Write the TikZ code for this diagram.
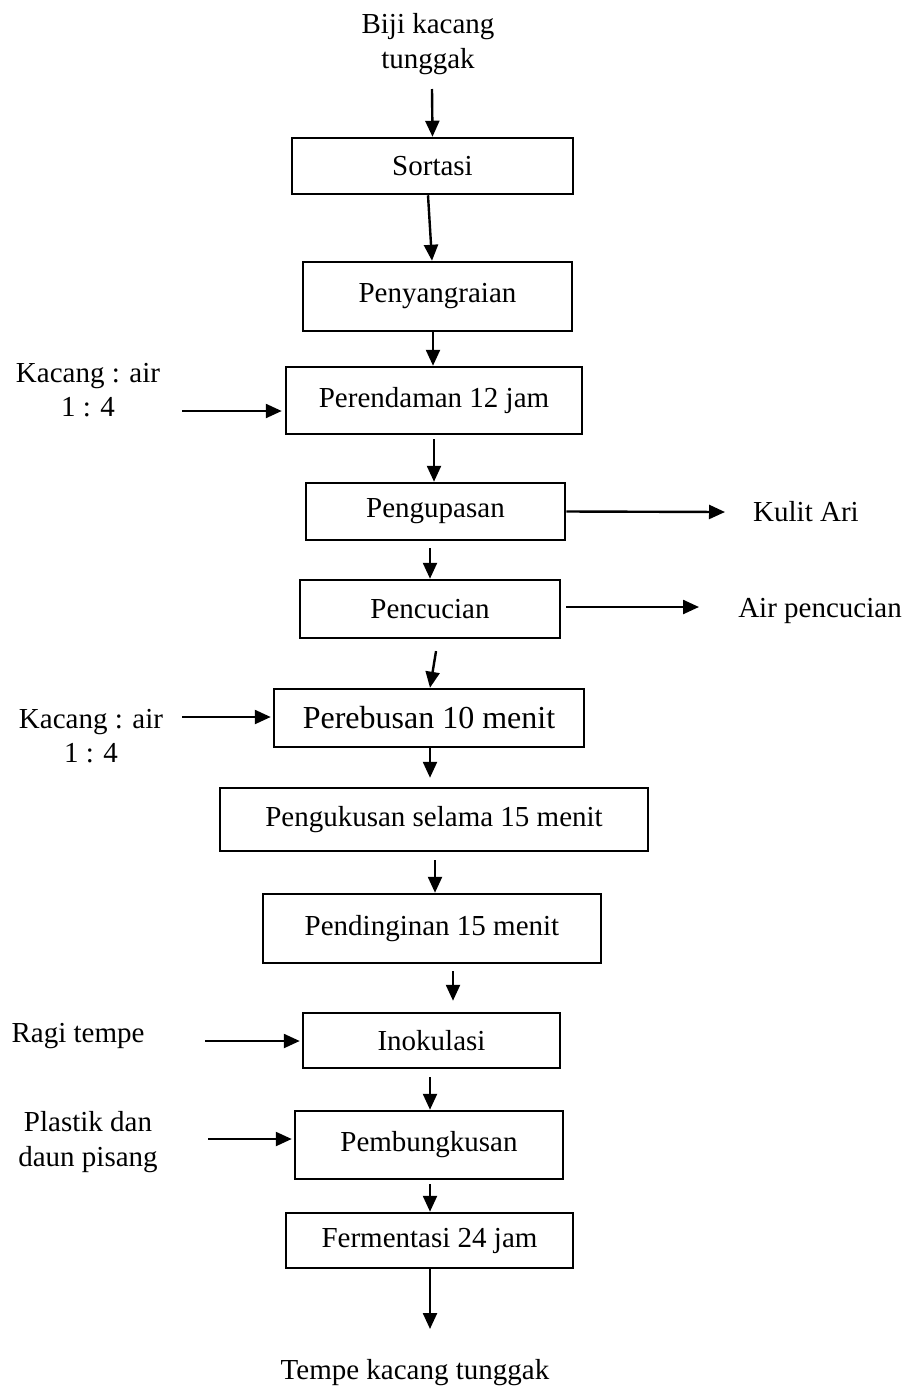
\documentclass[tikz,border=0pt]{standalone}
\usepackage{fontspec}
\setmainfont{Liberation Serif}
\usetikzlibrary{arrows.meta}
\begin{document}
\begin{tikzpicture}[x=1pt,y=-1pt,
  box/.style={draw,line width=2.5pt,inner sep=0pt,font=\fontsize{29}{34}\selectfont},
  lbl/.style={inner sep=0pt,align=center,font=\fontsize{29}{34.5}\selectfont},
  arr/.style={line width=2.4pt,-{Triangle[length=16pt,width=14pt]}}]
\useasboundingbox (0,0) rectangle (904,1387);
% boxes
\node[box,minimum width=281pt,minimum height=56pt] (sortasi) at (432.5,166) {Sortasi};
\node[box,minimum width=269pt,minimum height=69pt] (penyangraian) at (437.5,296.5) {Penyangraian};
\node[box,minimum width=296pt,minimum height=67pt] (perendaman) at (434,400.5) {Perendaman 12 jam};
\node[box,minimum width=259pt,minimum height=57pt] (pengupasan) at (435.5,511.5) {Pengupasan};
\node[box,minimum width=260pt,minimum height=58pt] (pencucian) at (430,609) {Pencucian};
\node[box,minimum width=310pt,minimum height=58pt,font=\fontsize{32}{38}\selectfont] (perebusan) at (429,718) {Perebusan 10 menit};
\node[box,minimum width=428pt,minimum height=63pt] (pengukusan) at (434,819.5) {Pengukusan selama 15 menit};
\node[box,minimum width=338pt,minimum height=69pt] (pendinginan) at (432,928.5) {Pendinginan 15 menit};
\node[box,minimum width=257pt,minimum height=55pt] (inokulasi) at (431.5,1040.5) {Inokulasi};
\node[box,minimum width=268pt,minimum height=68pt] (pembungkusan) at (429,1145) {Pembungkusan};
\node[box,minimum width=287pt,minimum height=55pt] (fermentasi) at (429.5,1240.5) {Fermentasi 24 jam};
% labels
\node[lbl] (biji) at (428,44) {Biji kacang\\tunggak};
\node[lbl] (kacang1) at (88,390) {Kacang : air\\1 : 4};
\node[lbl] (kacang2) at (91,736) {Kacang : air\\1 : 4};
\node[lbl] (ragi) at (78,1036.5) {Ragi tempe};
\node[lbl] (plastik) at (88,1142) {Plastik dan\\daun pisang};
\node[lbl] (kulit) at (806,512) {Kulit Ari};
\node[lbl] (airp) at (820,611) {Air pencucian};
\node[lbl] (tempe) at (415,1373) {Tempe kacang tunggak};
% free ends
\coordinate (b0) at (432,89);
\coordinate (t0) at (430,1329);
\coordinate (k1) at (182,411);
\coordinate (k2) at (182,717);
\coordinate (r1) at (205,1041);
\coordinate (p1) at (208,1139);
\coordinate (ku) at (725,512);
\coordinate (ap) at (699,607);
% main flow
\draw[arr] (b0) -- (sortasi.north);
\draw[arr] ([xshift=-4.5pt]sortasi.south) -- ([xshift=-5.5pt]penyangraian.north);
\draw[arr] ([xshift=-4.5pt]penyangraian.south) -- ([xshift=-1pt]perendaman.north);
\draw[arr,shorten <=4pt] (perendaman.south) -- ([xshift=-1.5pt]pengupasan.north);
\draw[arr,shorten <=7pt] ([xshift=-5.5pt]pengupasan.south) -- (pencucian.north);
\draw[arr,shorten <=12pt] ([xshift=8pt]pencucian.south) -- ([xshift=1pt]perebusan.north);
\draw[arr,shorten >=9pt] ([xshift=1pt]perebusan.south) -- ([xshift=-4pt]pengukusan.north);
\draw[arr,shorten <=8pt] ([xshift=1pt]pengukusan.south) -- ([xshift=3pt]pendinginan.north);
\draw[arr,shorten <=7pt,shorten >=11pt] ([xshift=21pt]pendinginan.south) -- ([xshift=21.5pt]inokulasi.north);
\draw[arr,shorten <=8pt] ([xshift=-1.5pt]inokulasi.south) -- ([xshift=1pt]pembungkusan.north);
\draw[arr,shorten <=4pt] ([xshift=1pt]pembungkusan.south) -- ([xshift=0.5pt]fermentasi.north);
\draw[arr] ([xshift=0.5pt]fermentasi.south) -- (t0);
% side inputs
\draw[arr,shorten >=3pt] (k1) -- (k1 -| perendaman.west);
\draw[arr,shorten >=2pt] (k2) -- (k2 -| perebusan.west);
\draw[arr,shorten >=2pt] (r1) -- (r1 -| inokulasi.west);
\draw[arr,shorten >=2pt] (p1) -- (p1 -| pembungkusan.west);
% side outputs
\draw[arr] (pengupasan.east) -- (ku);
\draw[arr] ([xshift=5pt]pencucian.east |- ap) -- (ap);
\end{tikzpicture}
\end{document}
